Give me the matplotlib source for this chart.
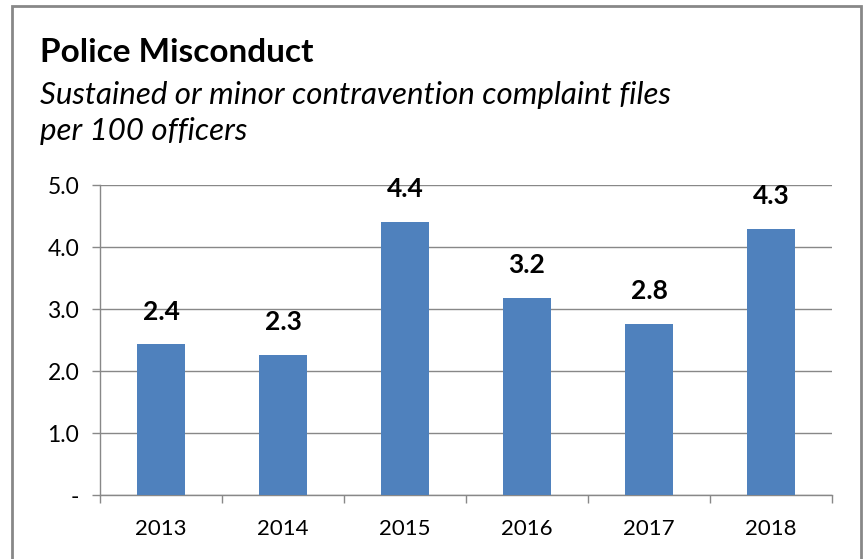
import matplotlib
matplotlib.use("Agg")
import matplotlib.pyplot as plt
from matplotlib.patches import Rectangle

years = ["2013", "2014", "2015", "2016", "2017", "2018"]
values = [2.43, 2.26, 4.41, 3.18, 2.76, 4.29]
labels = ["2.4", "2.3", "4.4", "3.2", "2.8", "4.3"]
yticks = [0, 1, 2, 3, 4, 5]
ytick_labels = ["-", "1.0", "2.0", "3.0", "4.0", "5.0"]

plt.rcParams['font.family'] = ['Lato', 'DejaVu Sans']

fig = plt.figure(figsize=(8.66, 5.59), dpi=100)
ax = fig.add_axes([100/866, 64/559, 732/866, 310/559])

x = list(range(len(years)))
bars = ax.bar(x, values, width=0.39, color="#4F81BD", zorder=3)
for xi, v, lab in zip(x, values, labels):
    ax.annotate(lab, (xi, v), xytext=(0, 15), textcoords="offset points",
                ha="center", va="bottom", fontsize=19, fontweight="bold", color="black")

ax.set_xlim(-0.5, 5.5)
ax.set_ylim(0, 5)
ax.set_yticks(yticks)
ax.set_yticklabels(ytick_labels)
ax.set_xticks(x)
ax.set_xticklabels(years)
ax.set_xticks([i + 0.5 for i in range(-1, 6)], minor=True)
ax.tick_params(axis='x', which='major', length=0, pad=17, labelsize=16)
ax.tick_params(axis='x', which='minor', length=6, width=1, color="#888888")
ax.tick_params(axis='y', length=6, width=1, color="#888888", pad=9, labelsize=16.5)
ax.yaxis.grid(True, color="#888888", linewidth=1, zorder=0)
for s in ["top", "right"]:
    ax.spines[s].set_visible(False)
for s in ["left", "bottom"]:
    ax.spines[s].set_color("#888888")
    ax.spines[s].set_linewidth(1)

fig.text(40/866, 1 - 62/559, "Police Misconduct", fontsize=24, fontweight="bold", ha="left", va="baseline")
fig.text(40/866, 1 - 104/559, "Sustained or minor contravention complaint files", fontsize=22.5,
         style="italic", ha="left", va="baseline")
fig.text(40/866, 1 - 140/559, "per 100 officers", fontsize=22.5, style="italic", ha="left", va="baseline")

fig.patches.append(Rectangle((12/866, -0.05), (861-12)/866, 1.05 - 6/559, transform=fig.transFigure,
                             fill=False, edgecolor="#888888", linewidth=2, clip_on=False))

fig.savefig("out.png", dpi=100)
